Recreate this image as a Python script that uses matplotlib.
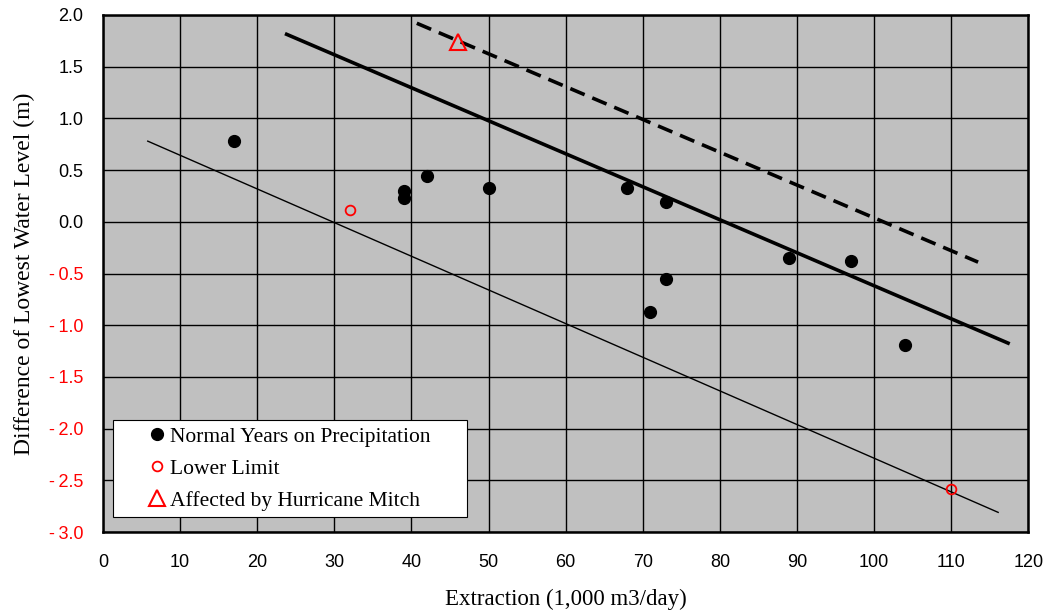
import matplotlib as mpl
import numpy as np
mpl.use("Agg")
import matplotlib.pyplot as plt
from matplotlib.patches import Rectangle

# extraction (1,000 m3/day) vs difference of lowest water level (m)
normal_x = [17, 39, 39, 42, 50, 68, 73, 73, 71, 89, 97, 104]
normal_y = [0.78, 0.30, 0.23, 0.44, 0.33, 0.33, 0.19, -0.55, -0.87, -0.35, -0.38, -1.19]
lower_x = [32, 110]
lower_y = [0.11, -2.58]
mitch_x = [46]
mitch_y = [1.74]

# trend line end points
mid_x = [23.6, 117.6]
mid_y = [1.82, -1.18]
upper_x = [40.7, 113.5]
upper_y = [1.92, -0.39]
low_x = [5.8, 116.1]
low_y = [0.78, -2.81]

xticks = np.arange(0, 121, 10)
yticks = np.arange(-3.0, 2.01, 0.5)

fig = plt.figure(figsize=(10.46, 6.12), dpi=100)
ax = fig.add_axes([0.0985, 0.1307, 0.8845, 0.8448])
ax.set_facecolor("#c0c0c0")

ax.plot(mid_x, mid_y, color="black", lw=2.6, solid_capstyle="butt")
ax.plot(upper_x, upper_y, color="black", lw=2.6, dashes=(4.3, 2.3))
ax.plot(low_x, low_y, color="black", lw=1.0)

ax.plot(normal_x, normal_y, "o", color="black", ms=8.5, ls="none",
        label="Normal Years on Precipitation")
ax.plot(lower_x, lower_y, "o", mfc="none", mec="red", mew=1.3, ms=7, ls="none",
        label="Lower Limit")
ax.plot(mitch_x, mitch_y, "^", mfc="none", mec="red", mew=1.5, ms=11, ls="none",
        label="Affected by Hurricane Mitch")

ax.set_xlim(0, 120)
ax.set_ylim(-3.0, 2.0)
ax.set_xticks(xticks)
ax.set_yticks(yticks)
ax.set_yticklabels([("-\u2009%.1f" % -v) if v < 0 else ("%.1f" % v) for v in yticks])
for lab, v in zip(ax.get_yticklabels(), yticks):
    if v < 0:
        lab.set_color("red")
for lab in ax.get_xticklabels() + ax.get_yticklabels():
    lab.set_fontfamily("Liberation Sans")
    lab.set_fontsize(13)
ax.tick_params(axis="y", length=0, pad=14)
ax.tick_params(axis="x", length=0, pad=16)
ax.grid(True, color="black", lw=1.0)
ax.set_axisbelow(True)
for sp in ax.spines.values():
    sp.set_linewidth(1.8)

ax.set_xlabel("Extraction (1,000 m3/day)", fontfamily="Liberation Serif", fontsize=16.5, labelpad=13)
ax.set_ylabel("Difference of Lowest Water Level (m)", fontfamily="Liberation Serif", fontsize=17, labelpad=10)

# legend box drawn separately so the entries can sit inside it with wide side margins
ax.add_patch(Rectangle((0.0108, 0.029), 0.3827, 0.1876, transform=ax.transAxes,
                       facecolor="white", edgecolor="black", lw=0.8, zorder=4))
leg = ax.legend(loc="upper left", bbox_to_anchor=(0.0465, 0.204),
                prop={"family": "Liberation Serif", "size": 15.5},
                frameon=False, handletextpad=0.1, borderpad=0, labelspacing=0.56,
                handlelength=1.0, borderaxespad=0)
leg.set_zorder(5)

fig.savefig("out.png", dpi=100)
